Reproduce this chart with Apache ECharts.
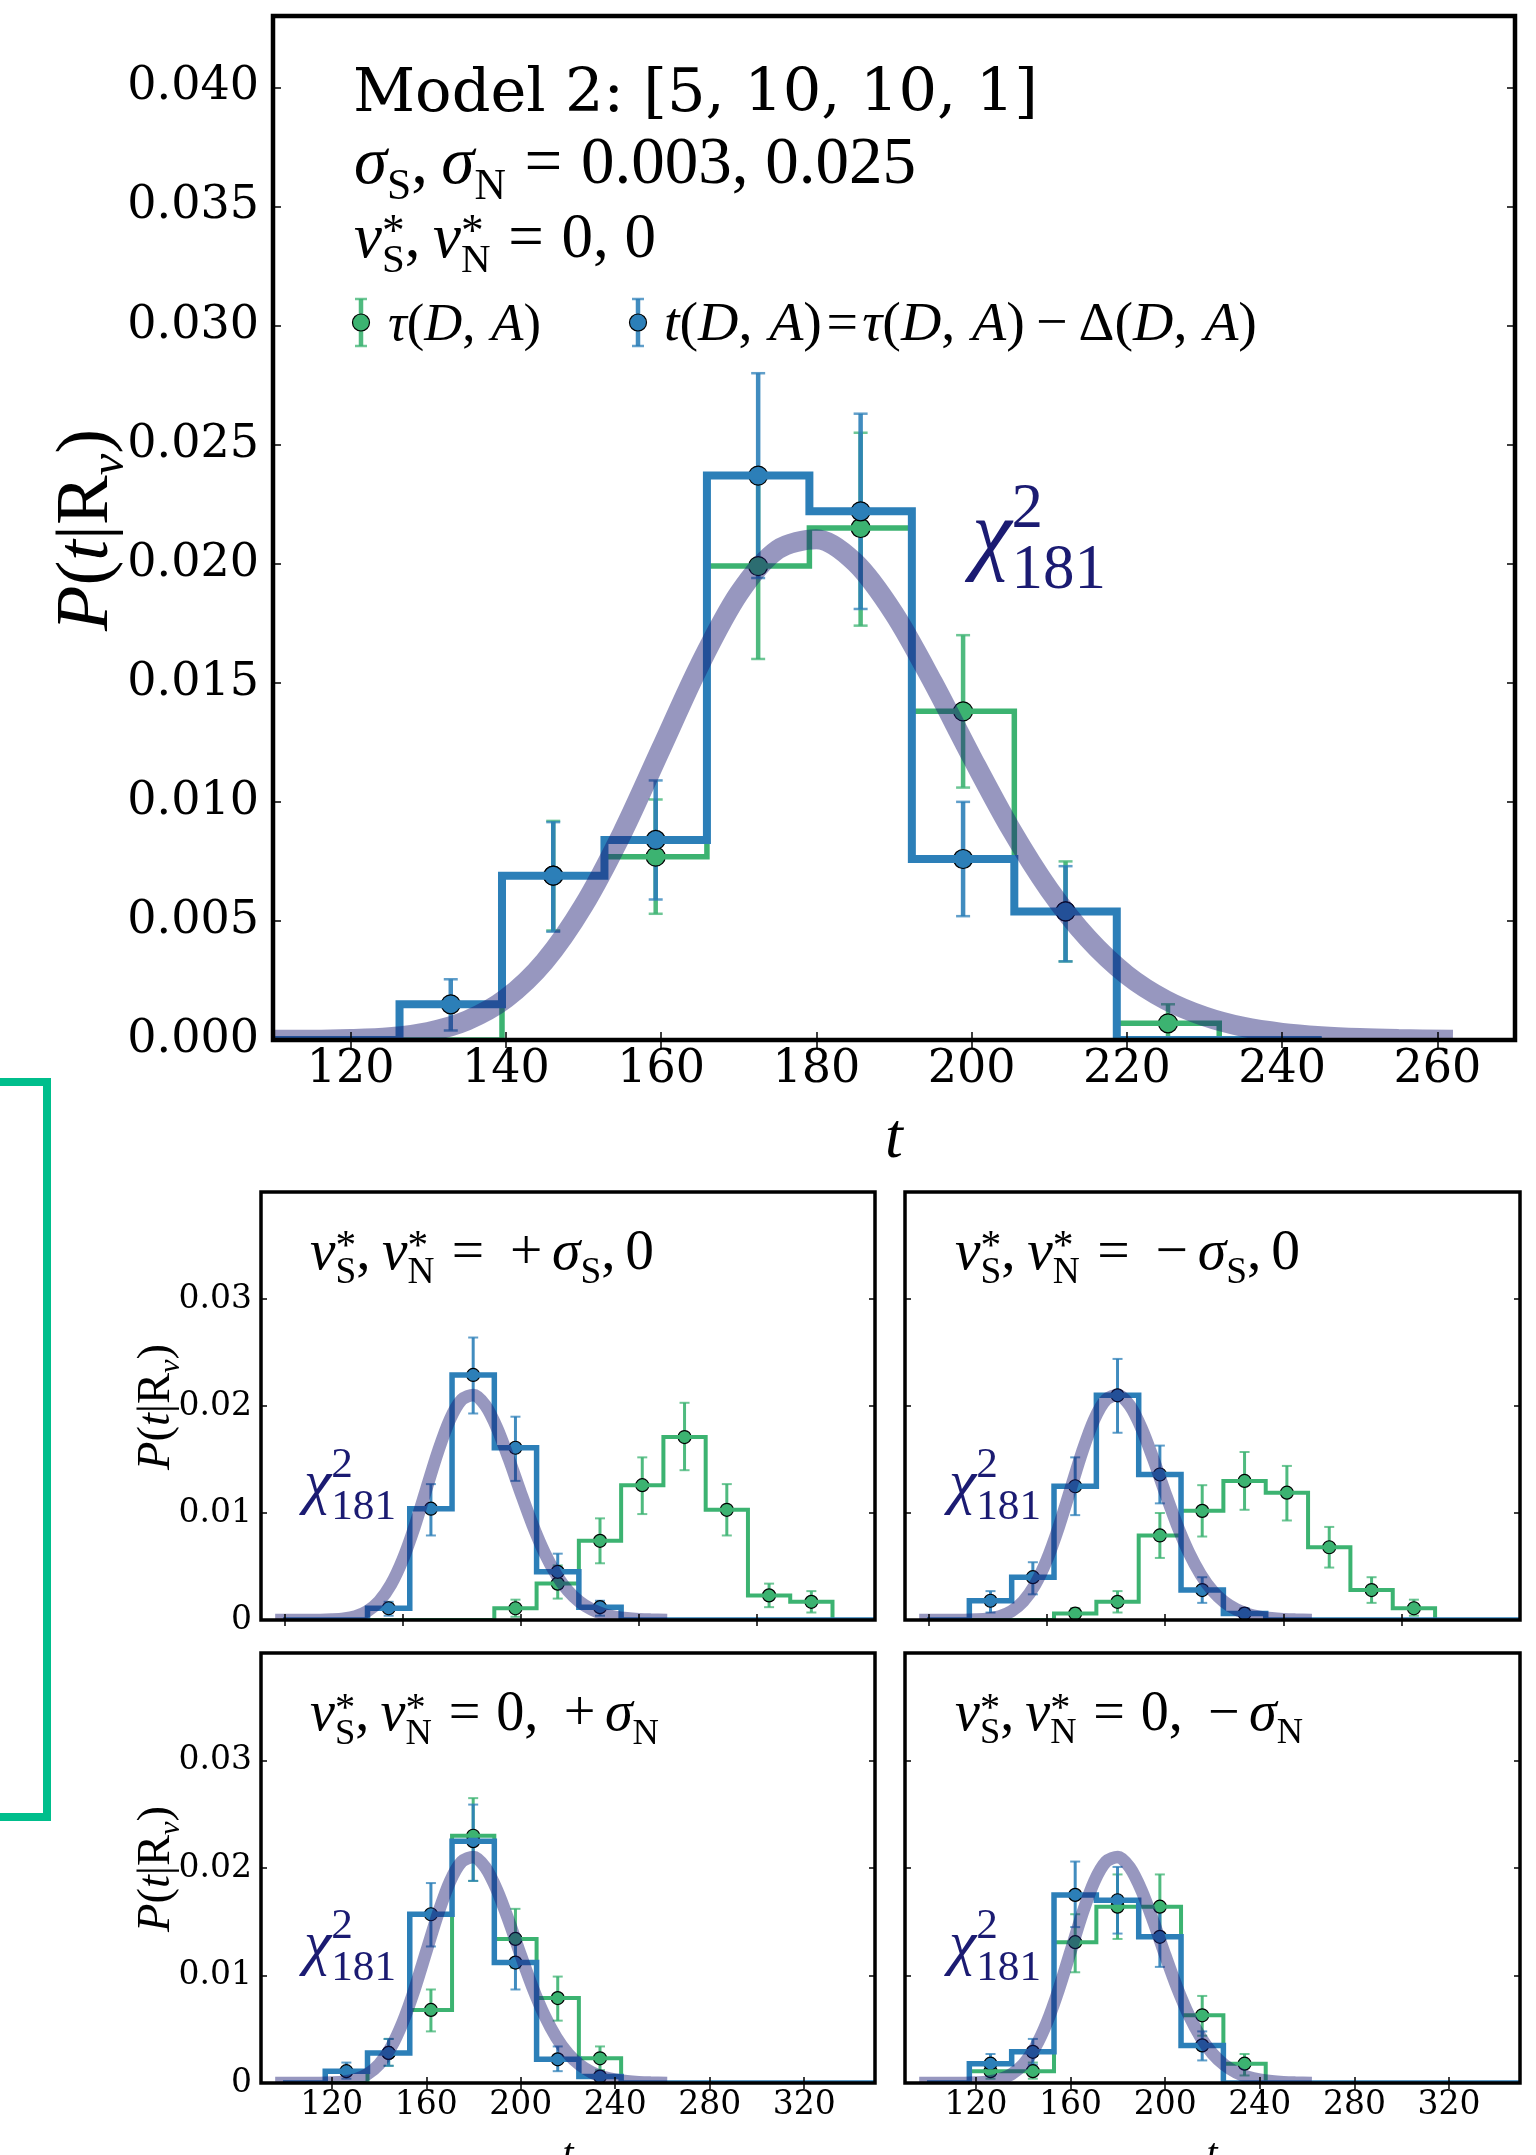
<!DOCTYPE html>
<html><head><meta charset="utf-8">
<script src="https://cdn.jsdelivr.net/npm/echarts@6/dist/echarts.min.js"></script>
<style>html,body{margin:0;padding:0;background:#fff}#c{width:1536px;height:2155px}</style>
</head><body><div id="c"></div><script>
// ================= DATA =================
// Top panel histograms (bins start at topBinStart, width topBinWidth)
const topBinStart = 99.9, topBinWidth = 13.2;
const topBlue    = [0, 0, 0.0015, 0.0069, 0.0084, 0.0237, 0.0222, 0.0076, 0.0054, 0, 0];
const topBlueLo  = [null, null, 0.0004, 0.00455, 0.0059, 0.0194, 0.0181, 0.0052, 0.0033, null, null];
const topBlueHi  = [null, null, 0.00255, 0.00915, 0.0109, 0.0280, 0.0263, 0.0100, 0.0073, null, null];
const topGreen   = [0, 0, 0, 0.0069, 0.0077, 0.0199, 0.0215, 0.0138, 0.0054, 0.0007, 0];
const topGreenLo = [null, null, null, 0.0046, 0.0053, 0.0160, 0.0174, 0.0106, 0.0033, 0.0000, null];
const topGreenHi = [null, null, null, 0.0092, 0.0101, 0.0238, 0.0255, 0.0170, 0.0075, 0.0015, null];

// Small panels (bins start at smallBinStart, width smallBinWidth)
const smallBinStart = 99.3, smallBinWidth = 17.9;
const N_ = null;
const plusS_blue    = [0, 0, 0.0011, 0.0104, 0.0229, 0.0161, 0.0045, 0.0012, 0, 0, 0, 0, 0, 0];
const plusS_blueLo  = [N_, N_, 0.0004, 0.0079, 0.0193, 0.0130, 0.0031, 0.0004, N_, N_, N_, N_, N_, N_];
const plusS_blueHi  = [N_, N_, 0.0017, 0.0127, 0.0264, 0.0190, 0.0062, 0.0018, N_, N_, N_, N_, N_, N_];
const plusS_green   = [0, 0, 0, 0, 0, 0.0011, 0.0034, 0.0074, 0.0126, 0.0171, 0.0103, 0.0023, 0.0017, 0];
const plusS_greenLo = [N_, N_, N_, N_, N_, 0.0003, 0.0020, 0.0053, 0.0099, 0.0140, 0.0079, 0.0012, 0.0007, N_];
const plusS_greenHi = [N_, N_, N_, N_, N_, 0.0019, 0.0051, 0.0095, 0.0152, 0.0203, 0.0127, 0.0034, 0.0027, N_];

const minusS_blue    = [0, 0.0018, 0.0040, 0.0125, 0.0210, 0.0136, 0.0028, 0.0006, 0, 0, 0, 0, 0, 0];
const minusS_blueLo  = [N_, 0.0007, 0.0024, 0.0098, 0.0175, 0.0109, 0.0016, 0.0001, N_, N_, N_, N_, N_, N_];
const minusS_blueHi  = [N_, 0.0027, 0.0054, 0.0152, 0.0244, 0.0163, 0.0040, 0.0011, N_, N_, N_, N_, N_, N_];
const minusS_green   = [0, 0, 0, 0.0006, 0.0017, 0.0079, 0.0102, 0.0130, 0.0119, 0.0068, 0.0028, 0.0011, 0, 0];
const minusS_greenLo = [N_, N_, N_, 0.0001, 0.0007, 0.0058, 0.0078, 0.0103, 0.0093, 0.0049, 0.0016, 0.0004, N_, N_];
const minusS_greenHi = [N_, N_, N_, 0.0011, 0.0027, 0.0100, 0.0126, 0.0157, 0.0144, 0.0087, 0.0040, 0.0019, N_, N_];

const plusN_blue    = [0, 0.0011, 0.0028, 0.0157, 0.0225, 0.0112, 0.0022, 0.0006, 0, 0, 0, 0, 0, 0];
const plusN_blueLo  = [N_, 0.0004, 0.0016, 0.0127, 0.0188, 0.0087, 0.0011, 0.0002, N_, N_, N_, N_, N_, N_];
const plusN_blueHi  = [N_, 0.0019, 0.0041, 0.0186, 0.0259, 0.0136, 0.0034, 0.0010, N_, N_, N_, N_, N_, N_];
const plusN_green   = [0, 0, 0.0028, 0.0068, 0.0230, 0.0134, 0.0079, 0.0023, 0, 0, 0, 0, 0, 0];
const plusN_greenLo = [N_, N_, 0.0016, 0.0048, 0.0188, 0.0107, 0.0058, 0.0012, N_, N_, N_, N_, N_, N_];
const plusN_greenHi = [N_, N_, 0.0041, 0.0087, 0.0265, 0.0162, 0.0099, 0.0034, N_, N_, N_, N_, N_, N_];

const minusN_blue    = [0, 0.0018, 0.0029, 0.0175, 0.0170, 0.0136, 0.0035, 0, 0, 0, 0, 0, 0, 0];
const minusN_blueLo  = [N_, 0.0007, 0.0017, 0.0145, 0.0139, 0.0108, 0.0021, N_, N_, N_, N_, N_, N_, N_];
const minusN_blueHi  = [N_, 0.0027, 0.0041, 0.0206, 0.0201, 0.0163, 0.0048, N_, N_, N_, N_, N_, N_, N_];
const minusN_green   = [0, 0.0011, 0.0011, 0.0131, 0.0164, 0.0164, 0.0063, 0.0018, 0, 0, 0, 0, 0, 0];
const minusN_greenLo = [N_, 0.0004, 0.0004, 0.0103, 0.0134, 0.0134, 0.0044, 0.0007, N_, N_, N_, N_, N_, N_];
const minusN_greenHi = [N_, 0.0019, 0.0019, 0.0157, 0.0194, 0.0194, 0.0081, 0.0027, N_, N_, N_, N_, N_, N_];

// chi^2_181 curve
const chiT = [96, 100, 105, 110, 115, 120, 125, 130, 135, 140, 145, 150, 155, 160, 165, 170, 175, 180, 185, 190, 195, 200, 205, 210, 215, 220, 225, 230, 235, 240, 245, 250, 255, 262];
const chiP = [0, 0, 0, 0.00001, 0.00001, 0.00004, 0.00012, 0.00034, 0.00082, 0.00174, 0.0033, 0.00564, 0.0087, 0.01224, 0.01577, 0.01874, 0.02059, 0.02103, 0.02005, 0.01791, 0.01503, 0.01189, 0.00889, 0.00631, 0.00426, 0.00273, 0.00168, 0.00099, 0.00055, 0.0003, 0.00016, 0.00008, 0.00004, 0.00001];

// Tick values
const topXTicks = [120, 140, 160, 180, 200, 220, 240, 260];
const topYTicks = [0, 0.005, 0.010, 0.015, 0.020, 0.025, 0.030, 0.035, 0.040];
const smallXTicks = [120, 160, 200, 240, 280, 320];
const smallXTicksUpper = [100, 150, 200, 250, 300];
const smallYTicks = [0, 0.01, 0.02, 0.03];

// ================= STYLE / LAYOUT =================
const BLUE = '#2c7fb8', GREEN = '#3cb371', CHI = 'rgba(25,25,112,0.45)', NAVY = '#1b1b72';
const LS = '"Liberation Serif", "DejaVu Serif", serif';
const DJ = '"DejaVu Serif", serif';
const MID = 0.25;

const big = {hb: 8, hg: 5.5, chi: 20, eb: 4.5, cap: 14, capT: 2.5, sym: 19, tick: 8, lab: 46, border: 4.5, lmx: 7, lmy: 14};
const sml = {hb: 5.5, hg: 4, chi: 12.5, eb: 3, cap: 10, capT: 2, sym: 13, tick: 6, lab: 33, border: 3.5, lmx: 6, lmy: 9};

const panels = [
  {g: [273, 16, 1242, 1024], xr: [110, 270], yr: [0, 0.043], xt: topXTicks, xtt: topXTicks, yt: topYTicks, xl: true, yl: true, s: big,
   bs: topBinStart, bw: topBinWidth, b: topBlue, bl: topBlueLo, bh: topBlueHi, gr: topGreen, gl: topGreenLo, gh: topGreenHi, yf: v => v.toFixed(3)},
  {g: [261, 1192, 614, 428], xr: [90, 350], yr: [0, 0.04], xt: smallXTicksUpper, xtt: smallXTicksUpper, yt: smallYTicks, xl: false, yl: true, s: sml,
   bs: smallBinStart, bw: smallBinWidth, b: plusS_blue, bl: plusS_blueLo, bh: plusS_blueHi, gr: plusS_green, gl: plusS_greenLo, gh: plusS_greenHi},
  {g: [905, 1192, 615, 428], xr: [90, 350], yr: [0, 0.04], xt: smallXTicksUpper, xtt: smallXTicksUpper, yt: smallYTicks, xl: false, yl: false, s: sml,
   bs: smallBinStart, bw: smallBinWidth, b: minusS_blue, bl: minusS_blueLo, bh: minusS_blueHi, gr: minusS_green, gl: minusS_greenLo, gh: minusS_greenHi},
  {g: [261, 1653, 614, 430], xr: [90, 350], yr: [0, 0.04], xt: smallXTicks, xtt: smallXTicks, yt: smallYTicks, xl: true, yl: true, s: sml,
   bs: smallBinStart, bw: smallBinWidth, b: plusN_blue, bl: plusN_blueLo, bh: plusN_blueHi, gr: plusN_green, gl: plusN_greenLo, gh: plusN_greenHi},
  {g: [905, 1653, 615, 430], xr: [90, 350], yr: [0, 0.04], xt: smallXTicks, xtt: smallXTicks, yt: smallYTicks, xl: true, yl: false, s: sml,
   bs: smallBinStart, bw: smallBinWidth, b: minusN_blue, bl: minusN_blueLo, bh: minusN_blueHi, gr: minusN_green, gl: minusN_greenLo, gh: minusN_greenHi}
];

function stepPts(start, w, vals, xmin, xmax) {
  const c = x => Math.min(Math.max(x, xmin), xmax);
  const pts = [[c(start), 0]];
  vals.forEach((v, i) => { pts.push([c(start + i * w), v]); pts.push([c(start + (i + 1) * w), v]); });
  pts.push([c(start + vals.length * w), 0]);
  return pts;
}
function errData(start, w, vals, lo, hi) {
  const out = [];
  vals.forEach((v, i) => { if (lo[i] != null) out.push([start + (i + 0.5) * w, lo[i], hi[i]]); });
  return out;
}
function ptData(start, w, vals, lo) {
  const out = [];
  vals.forEach((v, i) => { if (lo[i] != null) out.push([start + (i + 0.5) * w, v]); });
  return out;
}
function errSeries(pi, data, color, s) {
  return {
    type: 'custom', xAxisIndex: 2 * pi, yAxisIndex: 2 * pi, silent: true, data,
    encode: {x: 0, y: [1, 2]},
    renderItem: (params, api) => {
      const x = api.value(0), lo = api.value(1), hi = api.value(2);
      const a = api.coord([x, lo]), b = api.coord([x, hi]);
      const h = s.cap / 2;
      return {type: 'group', children: [
        {type: 'line', shape: {x1: a[0], y1: a[1], x2: b[0], y2: b[1]}, style: {stroke: color, lineWidth: s.eb, opacity: 0.9}},
        {type: 'line', shape: {x1: a[0] - h, y1: a[1], x2: a[0] + h, y2: a[1]}, style: {stroke: color, lineWidth: s.capT, opacity: 0.75}},
        {type: 'line', shape: {x1: b[0] - h, y1: b[1], x2: b[0] + h, y2: b[1]}, style: {stroke: color, lineWidth: s.capT, opacity: 0.75}}
      ]};
    }
  };
}

const xAxis = [], yAxis = [], series = [], grids = [], G = [];
panels.forEach((p, i) => {
  const s = p.s;
  grids.push({left: p.g[0], top: p.g[1], width: p.g[2], height: p.g[3], containLabel: false, outerBoundsMode: 'none', show: false});
  const tickStyle = {color: '#000', width: 1.5};
  xAxis.push({gridIndex: i, type: 'value', min: p.xr[0], max: p.xr[1], position: 'bottom', z: 10,
    axisLine: {show: false}, splitLine: {show: false},
    axisTick: {show: true, inside: true, length: s.tick, lineStyle: tickStyle, customValues: p.xt},
    axisLabel: {show: p.xl, customValues: p.xt, fontFamily: DJ, fontSize: s.lab, color: '#000', margin: s.lmx, formatter: v => String(v)}});
  xAxis.push({gridIndex: i, type: 'value', min: p.xr[0], max: p.xr[1], position: 'top', z: 10,
    axisLine: {show: false}, splitLine: {show: false},
    axisTick: {show: true, inside: true, length: s.tick, lineStyle: tickStyle, customValues: p.xtt},
    axisLabel: {show: false}});
  yAxis.push({gridIndex: i, type: 'value', min: p.yr[0], max: p.yr[1], position: 'left', z: 10,
    axisLine: {show: false}, splitLine: {show: false},
    axisTick: {show: true, inside: true, length: s.tick, lineStyle: tickStyle, customValues: p.yt},
    axisLabel: {show: p.yl, customValues: p.yt, fontFamily: DJ, fontSize: s.lab, color: '#000', margin: s.lmy,
      formatter: p.yf || (v => v === 0 ? '0' : v.toFixed(2))}});
  yAxis.push({gridIndex: i, type: 'value', min: p.yr[0], max: p.yr[1], position: 'right', z: 10,
    axisLine: {show: false}, splitLine: {show: false},
    axisTick: {show: true, inside: true, length: s.tick, lineStyle: tickStyle, customValues: p.yt},
    axisLabel: {show: false}});

  const ax = {xAxisIndex: 2 * i, yAxisIndex: 2 * i, silent: true};
  series.push(Object.assign({type: 'line', clip: false, showSymbol: false, symbol: 'none',
    data: stepPts(p.bs, p.bw, p.gr, p.xr[0], p.xr[1]),
    lineStyle: {color: GREEN, width: s.hg, join: 'miter', cap: 'butt'}}, ax));
  series.push(Object.assign({type: 'line', clip: false, showSymbol: false, symbol: 'none',
    data: stepPts(p.bs, p.bw, p.b, p.xr[0], p.xr[1]),
    lineStyle: {color: BLUE, width: s.hb, join: 'miter', cap: 'butt'}}, ax));
  series.push(Object.assign({type: 'line', clip: true, showSymbol: false, symbol: 'none', smooth: 0.3,
    data: chiT.map((t, k) => [t, chiP[k]]),
    lineStyle: {color: CHI, width: s.chi, cap: 'butt'}}, ax));
  series.push(errSeries(i, errData(p.bs, p.bw, p.gr, p.gl, p.gh), GREEN, s));
  series.push(Object.assign({type: 'scatter', symbol: 'circle', symbolSize: s.sym,
    data: ptData(p.bs, p.bw, p.gr, p.gl),
    itemStyle: {color: GREEN, borderColor: '#000', borderWidth: 1.2, opacity: 1}}, ax));
  series.push(errSeries(i, errData(p.bs, p.bw, p.b, p.bl, p.bh), BLUE, s));
  series.push(Object.assign({type: 'scatter', symbol: 'circle', symbolSize: s.sym,
    data: ptData(p.bs, p.bw, p.b, p.bl),
    itemStyle: {color: BLUE, borderColor: '#000', borderWidth: 1.2, opacity: 1}}, ax));

  // white masks that clip overflowing strokes just outside the plot frame (below axes, above series)
  G.push({type: 'rect', z: 5, silent: true, shape: {x: p.g[0] - 30, y: p.g[1] + p.g[3], width: p.g[2] + 60, height: 14}, style: {fill: '#fff'}});
  G.push({type: 'rect', z: 5, silent: true, shape: {x: p.g[0] - 14, y: p.g[1] - 14, width: 14, height: p.g[3] + 28}, style: {fill: '#fff'}});
  G.push({type: 'rect', z: 100, silent: true, shape: {x: p.g[0], y: p.g[1], width: p.g[2], height: p.g[3]},
    style: {fill: 'none', stroke: '#000', lineWidth: s.border}});
});

// ================= math-like text helpers =================
const mctx = document.createElement('canvas').getContext('2d');
function measure(t, font) { mctx.font = font; return mctx.measureText(t).width; }
const I = t => ({t, it: true});
const R = t => ({t});
const SUB = t => ({t, s: 0.65, dy: 0.25});
const SUBI = t => ({t, s: 0.65, dy: 0.22, it: true});
const STAR = {t: '*', s: 0.72, dy: -0.17, stack: true};
const SP = n => ({sp: n});
function layout(tokens, size, color, bx, by) {
  let x = 0, pend = 0; const els = [];
  tokens.forEach(tk => {
    if (tk.sp != null) { x += tk.sp * size; return; }
    const fs = (tk.s || 1) * size;
    const font = (tk.it ? 'italic ' : '') + fs.toFixed(2) + 'px ' + (tk.d ? DJ : LS);
    const w = measure(tk.t, font);
    els.push({type: 'text', z: 100, silent: true, x: bx + x, y: by + (tk.dy || 0) * size - MID * fs,
      style: {text: tk.t, font, fill: color, textAlign: 'left', align: 'left', textVerticalAlign: 'middle', verticalAlign: 'middle'}});
    if (tk.stack) pend = Math.max(pend, w);
    else { x += Math.max(w, pend); pend = 0; }
  });
  return {els, width: x};
}
function math(tokens, size, color, o) {
  let lay = layout(tokens, size, color, 0, 0);
  if (o.w) { size = size * o.w / lay.width; lay = layout(tokens, size, color, 0, 0); }
  if (o.rot) {
    lay = layout(tokens, size, color, -lay.width / 2, 0.27 * size);
    return {type: 'group', x: o.x, y: o.y, rotation: Math.PI / 2, children: lay.els};
  }
  const ox = o.center ? -lay.width / 2 : 0;
  lay = layout(tokens, size, color, ox, 0);
  return {type: 'group', x: o.x, y: o.y, children: lay.els};
}

// Top panel annotations
G.push(math([{t: 'Model 2: [5, 10, 10, 1]', d: true}], 60, '#000', {x: 353, y: 110, w: 685}));
G.push(math([I('σ'), SUB('S'), R(','), SP(0.2), I('σ'), SUB('N'), SP(0.28), R('='), SP(0.28), R('0.003, 0.025')], 58, '#000', {x: 354, y: 182, w: 562}));
G.push(math([I('ν'), STAR, SUB('S'), R(','), SP(0.2), I('ν'), STAR, SUB('N'), SP(0.28), R('='), SP(0.28), R('0, 0')], 58, '#000', {x: 354, y: 256, w: 302}));

// Legend
function legendMark(x, color) {
  const y1 = 299, y2 = 346, cy = 322.5;
  G.push({type: 'line', z: 100, silent: true, shape: {x1: x, y1, x2: x, y2}, style: {stroke: color, lineWidth: 4.5, opacity: 0.9}});
  G.push({type: 'line', z: 100, silent: true, shape: {x1: x - 6, y1, x2: x + 6, y2: y1}, style: {stroke: color, lineWidth: 2.5, opacity: 0.75}});
  G.push({type: 'line', z: 100, silent: true, shape: {x1: x - 6, y1: y2, x2: x + 6, y2}, style: {stroke: color, lineWidth: 2.5, opacity: 0.75}});
  G.push({type: 'circle', z: 101, silent: true, shape: {cx: x, cy, r: 8.5}, style: {fill: color, stroke: '#000', lineWidth: 1.2}});
}
legendMark(361, GREEN);
legendMark(638, BLUE);
G.push(math([I('τ'), R('('), I('D'), R(','), SP(0.3), I('A'), R(')')], 46, '#000', {x: 388, y: 339, w: 153}));
G.push(math([I('t'), R('('), I('D'), R(','), SP(0.3), I('A'), R(')'), SP(0.08), R('='), SP(0.08), I('τ'), R('('), I('D'), R(','), SP(0.3), I('A'), R(')'),
  SP(0.2), R('−'), SP(0.2), R('Δ'), R('('), I('D'), R(','), SP(0.3), I('A'), R(')')], 46, '#000', {x: 664, y: 339, w: 593}));

// chi^2 labels
const chiTokens = [I('χ'), {t: '2', s: 0.7, dy: -0.40, stack: true}, {t: '181', s: 0.7, dy: 0.28}];
G.push(math(chiTokens, 80, NAVY, {x: 972, y: 562, w: 134}));
[[304, 1501], [949, 1501], [304, 1962], [949, 1962]].forEach(([x, y]) => G.push(math(chiTokens, 54, NAVY, {x, y, w: 92})));

// small panel titles
const lhs = [I('ν'), STAR, SUB('S'), R(','), SP(0.2), I('ν'), STAR, SUB('N'), SP(0.3), R('=')];
G.push(math(lhs.concat([SP(0.45), R('+'), SP(0.17), I('σ'), SUB('S'), R(','), SP(0.17), R('0')]), 40, '#000', {x: 310, y: 1268, w: 344}));
G.push(math(lhs.concat([SP(0.45), R('−'), SP(0.17), I('σ'), SUB('S'), R(','), SP(0.17), R('0')]), 40, '#000', {x: 955, y: 1268, w: 345}));
G.push(math(lhs.concat([SP(0.28), R('0'), R(','), SP(0.45), R('+'), SP(0.17), I('σ'), SUB('N')]), 40, '#000', {x: 310, y: 1729, w: 349}));
G.push(math(lhs.concat([SP(0.28), R('0'), R(','), SP(0.45), R('−'), SP(0.17), I('σ'), SUB('N')]), 40, '#000', {x: 955, y: 1729, w: 348}));

// axis labels
const ylab = [I('P'), R('('), I('t'), R('|'), R('R'), SUBI('ν'), R(')')];
G.push(math(ylab, 64, '#000', {x: 86, y: 530, w: 202, rot: true}));
G.push(math(ylab, 40, '#000', {x: 156, y: 1407, w: 126, rot: true}));
G.push(math(ylab, 40, '#000', {x: 156, y: 1869, w: 126, rot: true}));
G.push(math([I('t')], 64, '#000', {x: 894, y: 1156, center: true}));
G.push(math([I('t')], 40, '#000', {x: 568, y: 2165, center: true}));
G.push(math([I('t')], 40, '#000', {x: 1212, y: 2165, center: true}));

// bracket on the left
G.push({type: 'polyline', z: 100, silent: true, shape: {points: [[0, 1082], [47, 1082], [47, 1817], [0, 1817]]},
  style: {fill: 'none', stroke: '#00be8c', lineWidth: 8, lineJoin: 'miter'}});

const chart = echarts.init(document.getElementById('c'), null, {renderer: 'canvas'});
chart.setOption({animation: false, backgroundColor: '#fff', grid: grids, xAxis, yAxis, series, graphic: {elements: G}});
</script></body></html>
